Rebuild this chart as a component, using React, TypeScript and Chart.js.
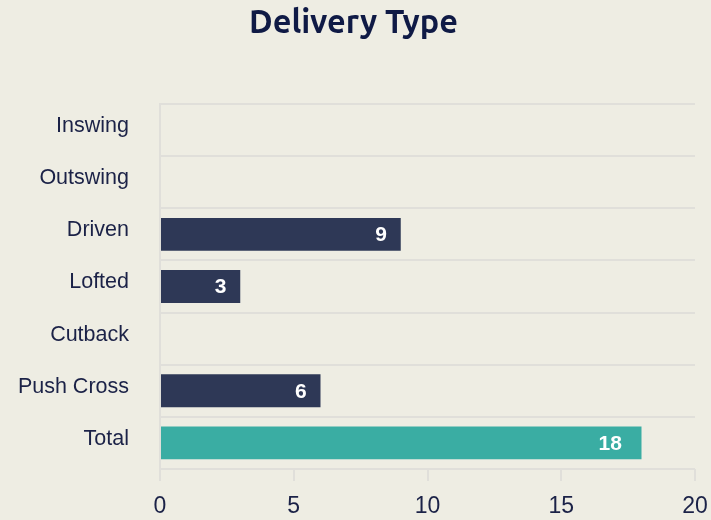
import React, { useEffect, useRef } from "react";
import { Chart, registerables } from "chart.js";

Chart.register(...registerables);

const categories = ["Inswing", "Outswing", "Driven", "Lofted", "Cutback", "Push Cross", "Total"];
const values = [0, 0, 9, 3, 0, 6, 18];
const barColors = ["#2E3856", "#2E3856", "#2E3856", "#2E3856", "#2E3856", "#2E3856", "#3AADA3"];
const xTicks = [0, 5, 10, 15, 20];

const BG = "#EEEDE3";
const TEXT = "#1B2247";
const GRID = "#E0DFDA";
const SANS = "'Liberation Sans', Arial, Helvetica, sans-serif";

const valueLabels = {
  id: "valueLabels",
  afterDatasetsDraw(chart: any) {
    const ctx = chart.ctx;
    const meta = chart.getDatasetMeta(0);
    ctx.save();
    ctx.fillStyle = "#FFFFFF";
    ctx.font = "bold 21px " + SANS;
    ctx.textAlign = "center";
    ctx.textBaseline = "middle";
    meta.data.forEach((bar: any, i: number) => {
      const v = values[i];
      if (!v) return;
      const text = String(v);
      const w = ctx.measureText(text).width;
      ctx.fillText(text, bar.x - 8 - w, bar.y + 1);
    });
    ctx.restore();
  },
};

const bgPlugin = {
  id: "bg",
  beforeDraw(chart: any) {
    const ctx = chart.ctx;
    ctx.save();
    ctx.fillStyle = BG;
    ctx.fillRect(0, 0, chart.width, chart.height);
    ctx.restore();
  },
};

export default function App() {
  const ref = useRef<HTMLCanvasElement | null>(null);
  useEffect(() => {
    if (!ref.current) return;
    const chart = new Chart(ref.current, {
      type: "bar",
      data: {
        labels: categories,
        datasets: [
          {
            data: values,
            backgroundColor: barColors,
            barPercentage: 0.9,
            categoryPercentage: 0.7,
          },
        ],
      },
      options: {
        indexAxis: "y",
        animation: false,
        responsive: true,
        maintainAspectRatio: false,
        layout: { padding: { left: 0, right: 4, top: 0, bottom: 0 } },
        plugins: {
          legend: { display: false },
          tooltip: { enabled: false },
          title: {
            display: true,
            text: "Delivery Type",
            color: "#0F1A45",
            font: { family: "Ubuntu, 'Open Sans', 'DejaVu Sans', sans-serif", size: 32.5, weight: "bold" },
            padding: { top: 3, bottom: 62 },
          },
        },
        scales: {
          x: {
            min: 0,
            max: 20,
            afterBuildTicks(axis: any) {
              axis.ticks = xTicks.map((v) => ({ value: v }));
            },
            afterFit(axis: any) {
              axis.height = 51;
              axis.paddingRight = 16;
              axis.paddingLeft = 0;
            },
            grid: {
              display: true,
              drawOnChartArea: false,
              drawTicks: true,
              tickLength: 12,
              color: GRID,
              lineWidth: 2,
            },
            border: { display: false },
            ticks: {
              color: TEXT,
              padding: 12,
              font: { family: SANS, size: 23 },
            },
          },
          y: {
            afterFit(axis: any) {
              axis.width = 160;
            },
            grid: {
              display: true,
              drawTicks: false,
              color: GRID,
              lineWidth: 2,
            },
            border: { display: true, color: GRID, width: 2 },
            ticks: {
              color: TEXT,
              padding: 31,
              labelOffset: -4,
              font: { family: SANS, size: 21.5 },
            },
          },
        },
      },
      plugins: [bgPlugin, valueLabels],
    });
    return () => chart.destroy();
  }, []);
  return (
    <div style={{ position: "absolute", left: 0, top: 0, width: 711, height: 520, background: BG }}>
      <canvas ref={ref} />
    </div>
  );
}
